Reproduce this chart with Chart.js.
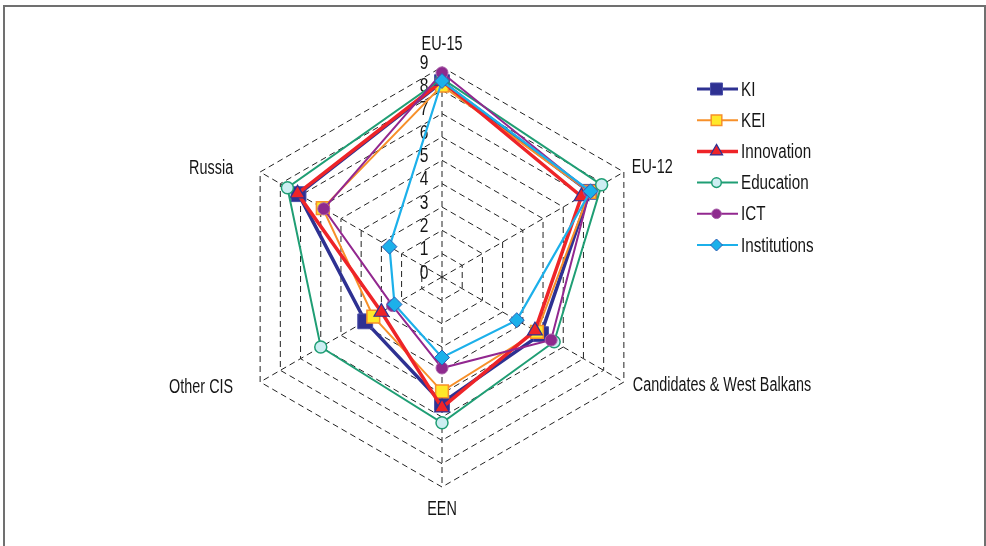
<!DOCTYPE html>
<html><head><meta charset="utf-8">
<script src="https://cdn.jsdelivr.net/npm/chart.js@4.4.0/dist/chart.umd.min.js"></script>
<style>
html,body{margin:0;padding:0;background:#fff;}
#wrap{position:relative;width:986px;height:546px;overflow:hidden;}
#frame{position:absolute;left:3px;top:5px;width:983px;height:600px;border:2px solid #707070;box-sizing:border-box;}
canvas{position:absolute;left:0;top:0;}
</style></head>
<body><div id="wrap"><div id="frame"></div><canvas id="c" width="986" height="546"></canvas></div>
<script>
// ---- data ----
const regions = ['EU-15', 'EU-12', 'Candidates & West Balkans', 'EEN', 'Other CIS', 'Russia'];
const tickLabels = ['0', '1', '2', '3', '4', '5', '6', '7', '8', '9'];
const seriesNames = ['KI', 'KEI', 'Innovation', 'Education', 'ICT', 'Institutions'];
const KI           = [8.35, 7.30, 4.90, 5.40, 3.80, 7.10];
const KEI          = [8.20, 7.30, 4.70, 4.90, 3.40, 5.90];
const Innovation   = [8.40, 6.90, 4.60, 5.60, 3.00, 7.15];
const Education    = [8.50, 7.90, 5.55, 6.25, 6.00, 7.65];
const ICT          = [8.75, 7.30, 5.40, 3.90, 2.45, 5.85];
const Institutions = [8.40, 7.35, 3.70, 3.45, 2.35, 2.60];

const FONT = '"Liberation Sans Narrow","Liberation Sans",Arial,sans-serif';

const styles = [
  {data: KI, line: '#2e3192', lw: 3.5, ps: 'rect', pr: 10.5, fill: '#2e3192', bc: '#4a4fa8', bw: 1, lgR: 8.5, lgLw: 3},
  {data: KEI, line: '#f7902a', lw: 2, ps: 'rect', pr: 9, fill: '#ffe82a', bc: '#f7902a', bw: 1.5, lgR: 7.5, lgLw: 2},
  {data: Innovation, line: '#ee2428', lw: 3.5, ps: 'triangle', pr: 8.5, fill: '#ee2428', bc: '#2e3192', bw: 1.2, lgR: 7, lgLw: 3.5},
  {data: Education, line: '#1f9e74', lw: 2, ps: 'circle', pr: 6, fill: '#cdeef2', bc: '#1f9e74', bw: 1.5, lgR: 4.8, lgLw: 2},
  {data: ICT, line: '#92278f', lw: 2, ps: 'circle', pr: 6, fill: '#8e2a8e', bc: '#a860a8', bw: 1, lgR: 4.8, lgLw: 2},
  {data: Institutions, line: '#1cb0ea', lw: 2.2, ps: 'rectRot', pr: 7.5, fill: '#1cb0ea', bc: '#2d5fb4', bw: 1, lgR: 6, lgLw: 2}
];

function marker(ctx, style, x, y, r) {
  ctx.beginPath();
  if (style === 'rect') {
    const h = r * Math.SQRT1_2;
    ctx.rect(x - h, y - h, 2 * h, 2 * h);
  } else if (style === 'triangle') {
    ctx.moveTo(x, y - r);
    ctx.lineTo(x + r * Math.cos(Math.PI / 6), y + r / 2);
    ctx.lineTo(x - r * Math.cos(Math.PI / 6), y + r / 2);
    ctx.closePath();
  } else if (style === 'circle') {
    ctx.arc(x, y, r, 0, Math.PI * 2);
  } else if (style === 'rectRot') {
    ctx.moveTo(x, y - r); ctx.lineTo(x + r, y); ctx.lineTo(x, y + r); ctx.lineTo(x - r, y);
    ctx.closePath();
  }
  ctx.fill();
  ctx.stroke();
}

// condensed text: real text drawn with a horizontal squeeze
function narrowText(ctx, text, x, y, sx) {
  ctx.save();
  ctx.translate(x, y);
  ctx.scale(sx, 1);
  ctx.fillText(text, 0, 0);
  ctx.restore();
}

const labelPlugin = {
  id: 'labelPlugin',
  beforeDatasetsDraw(chart) {
    const s = chart.scales.r;
    const ctx = chart.ctx;
    ctx.save();
    ctx.fillStyle = '#151515';
    // tick labels
    ctx.font = '21px ' + FONT;
    ctx.textAlign = 'center';
    ctx.textBaseline = 'middle';
    tickLabels.forEach((t) => {
      const d = s.getDistanceFromCenterForValue(Number(t));
      narrowText(ctx, t, s.xCenter - 18, s.yCenter - d - 4, 0.74);
    });
    // point labels
    ctx.font = '20px ' + FONT;
    ctx.textBaseline = 'alphabetic';
    const lay = [
      {dx: 0, dy: -17, a: 'center'},
      {dx: 8, dy: 1, a: 'left'},
      {dx: 9, dy: 9, a: 'left'},
      {dx: 0, dy: 28, a: 'center'},
      {dx: -27, dy: 11, a: 'right'},
      {dx: -27, dy: 2, a: 'right'}
    ];
    regions.forEach((lbl, i) => {
      const p = s.getPointPosition(i, s.drawingArea);
      ctx.textAlign = lay[i].a;
      narrowText(ctx, lbl, p.x + lay[i].dx, p.y + lay[i].dy, 0.72);
    });
    ctx.restore();
  },
  afterDraw(chart) {
    const ctx = chart.ctx;
    ctx.save();
    ctx.font = '20px ' + FONT;
    ctx.textAlign = 'left';
    ctx.textBaseline = 'middle';
    seriesNames.forEach((name, i) => {
      const st = styles[i];
      const y = 89 + i * 31.2;
      ctx.strokeStyle = st.line;
      ctx.lineWidth = st.lgLw;
      ctx.beginPath(); ctx.moveTo(697, y); ctx.lineTo(738, y); ctx.stroke();
      ctx.fillStyle = st.fill; ctx.strokeStyle = st.bc; ctx.lineWidth = st.bw;
      marker(ctx, st.ps, 716.5, y, st.lgR);
      ctx.fillStyle = '#151515';
      narrowText(ctx, name, 741, y + 1, 0.76);
    });
    ctx.restore();
  }
};

const datasets = seriesNames.map((name, i) => {
  const st = styles[i];
  return {
    label: name,
    data: st.data,
    order: 5 - i,
    fill: false,
    borderColor: st.line,
    backgroundColor: 'transparent',
    borderWidth: st.lw,
    tension: 0,
    pointStyle: st.ps,
    pointRadius: st.pr,
    pointHoverRadius: st.pr,
    pointBackgroundColor: st.fill,
    pointBorderColor: st.bc,
    pointBorderWidth: st.bw
  };
});

new Chart(document.getElementById('c'), {
  type: 'radar',
  data: {labels: regions, datasets},
  plugins: [labelPlugin],
  options: {
    responsive: false,
    animation: false,
    events: [],
    plugins: {legend: {display: false}, tooltip: {enabled: false}},
    scales: {
      r: {
        min: 0, max: 9,
        ticks: {display: false, stepSize: 1},
        pointLabels: {display: false},
        grid: {color: '#222', lineWidth: 1, borderDash: [6, 4]},
        border: {dash: [6, 4]},
        angleLines: {display: true, color: '#222', lineWidth: 1, borderDash: [6, 4]},
        afterFit: (s) => { s.xCenter = 442; s.yCenter = 277; s.drawingArea = 210; }
      }
    }
  }
});
</script>
</body></html>
